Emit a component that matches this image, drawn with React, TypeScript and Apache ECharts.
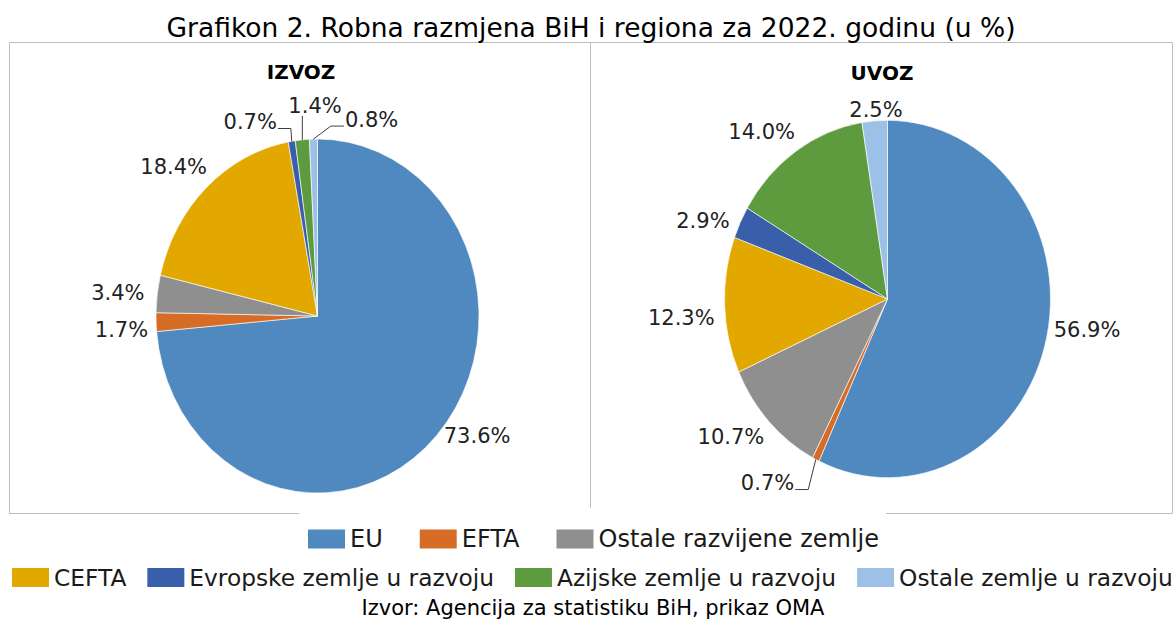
import React, { useEffect, useRef } from "react";
import * as echarts from "echarts";

// ---------- data ----------
const CATEGORIES = [
  "EU",
  "EFTA",
  "Ostale razvijene zemlje",
  "CEFTA",
  "Evropske zemlje u razvoju",
  "Azijske zemlje u razvoju",
  "Ostale zemlje u razvoju",
];
const IZVOZ_VALUES = [73.6, 1.7, 3.4, 18.4, 0.7, 1.4, 0.8];
const UVOZ_VALUES = [56.9, 0.7, 10.7, 12.3, 2.9, 14.0, 2.5];
const PANEL_TITLES = ["IZVOZ", "UVOZ"];
const TITLE = "Grafikon 2. Robna razmjena BiH i regiona za 2022. godinu (u %)";
const SOURCE = "Izvor: Agencija za statistiku BiH, prikaz OMA";
const LEGEND_ROW_1 = CATEGORIES.slice(0, 3);
const LEGEND_ROW_2 = CATEGORIES.slice(3);

// ---------- styles / layout ----------
const COLORS = ["#4F89BF", "#D66C26", "#8F8F8F", "#E2A800", "#3A5FAA", "#5E9B3F", "#9DC1E6"];
const W = 1173;
const H = 621;
const STRETCH = 1.096; // the pies of the reference are vertical ellipses
const FONT = "DejaVu Sans";
const GAP = 8;

type PieCfg = {
  cx: number;
  cy: number;
  r: number;
  values: number[];
  nudges: number[][];
  leaders: boolean[];
};

const PIES: PieCfg[] = [
  {
    cx: 317.5,
    cy: 316,
    r: 161.5,
    values: IZVOZ_VALUES,
    nudges: [[10, -12], [0, 7], [-5, 2], [-4, -7], [-36, -1], [16, -15], [59, -1]],
    leaders: [false, false, false, false, true, true, true],
  },
  {
    cx: 887.5,
    cy: 299,
    r: 163,
    values: UVOZ_VALUES,
    nudges: [[0, -11], [-33, 7], [-8, 3], [-2, 12], [-6, 7], [-11, -4], [4, 8]],
    leaders: [false, true, false, false, false, false, false],
  },
];

function makeLabelLayout(p: PieCfg) {
  const total = p.values.reduce((a, b) => a + b, 0);
  const ry = p.r * STRETCH;
  return (params: any) => {
    const i = params.dataIndex;
    let before = 0;
    for (let j = 0; j < i; j++) before += p.values[j];
    const ang = ((before + p.values[i] / 2) / total) * Math.PI * 2;
    const s = Math.sin(ang);
    const c = -Math.cos(ang);
    const ex = p.cx + p.r * s;
    const ey = p.cy + ry * c;
    const w = params.labelRect.width;
    const h = params.labelRect.height;
    const lx = ex + s * (GAP + w / 2) + p.nudges[i][0];
    const ly = ey + c * (GAP + h / 2) + p.nudges[i][1];
    const out: any = { x: lx, y: ly, align: "center", verticalAlign: "middle" };
    if (p.leaders[i]) {
      const left = lx - w / 2;
      const right = lx + w / 2;
      const yA = ly + h / 2 - 4;
      if (ex >= left && ex <= right) {
        out.labelLinePoints = [[ex, ey], [ex, ly + h / 2 - 1]];
      } else if (right < ex) {
        out.labelLinePoints = [[ex, ey], [right + 14, yA], [right + 1, yA]];
      } else {
        out.labelLinePoints = [[ex, ey], [left - 14, yA], [left - 1, yA]];
      }
    }
    return out;
  };
}

function pieLayerOption(): any {
  return {
    animation: false,
    series: PIES.map((p, si) => ({
      type: "pie",
      name: PANEL_TITLES[si],
      center: [p.cx, p.cy / STRETCH],
      radius: p.r,
      startAngle: 90,
      clockwise: true,
      silent: true,
      label: { show: false },
      labelLine: { show: false },
      itemStyle: { borderColor: "#ffffff", borderWidth: 0.6 },
      data: CATEGORIES.map((name, i) => ({
        name,
        value: p.values[i],
        itemStyle: { color: COLORS[i] },
      })),
    })),
  };
}

function textLayerOption(): any {
  const legendBase = {
    orient: "horizontal",
    padding: 0,
    icon: "rect",
    itemWidth: 37,
    itemHeight: 19,
    selectedMode: false,
    itemStyle: { opacity: 1, borderWidth: 0 },
  };
  const legendData = (names: string[]) =>
    names.map((name) => ({ name, itemStyle: { color: COLORS[CATEGORIES.indexOf(name)], opacity: 1 } }));

  return {
    animation: false,
    backgroundColor: "transparent",
    legend: [
      {
        ...legendBase,
        left: 308,
        top: 527,
        itemGap: 37,
        textStyle: { fontSize: 24, fontFamily: FONT, color: "#1a1a1a" },
        data: legendData(LEGEND_ROW_1),
      },
      {
        ...legendBase,
        left: 12,
        top: 566,
        itemGap: 21,
        textStyle: { fontSize: 23.3, fontFamily: FONT, color: "#1a1a1a" },
        data: legendData(LEGEND_ROW_2),
      },
    ],
    graphic: [
      {
        type: "rect",
        silent: true,
        shape: { x: 9.5, y: 42.5, width: 581, height: 471 },
        style: { fill: "none", stroke: "#BDBDBD", lineWidth: 1 },
      },
      {
        type: "rect",
        silent: true,
        shape: { x: 590.5, y: 42.5, width: 582, height: 471 },
        style: { fill: "none", stroke: "#BDBDBD", lineWidth: 1 },
      },
      {
        type: "rect",
        silent: true,
        shape: { x: 299, y: 508, width: 587, height: 12 },
        style: { fill: "#ffffff" },
      },
      {
        type: "text",
        x: 591,
        y: 27,
        style: { text: TITLE, fontSize: 26.5, fontFamily: FONT, fill: "#000", align: "center", verticalAlign: "middle" },
      },
      {
        type: "text",
        x: 301,
        y: 72,
        style: {
          text: PANEL_TITLES[0],
          fontSize: 20,
          fontWeight: "bold",
          fontFamily: FONT,
          fill: "#000",
          align: "center",
          verticalAlign: "middle",
        },
      },
      {
        type: "text",
        x: 882,
        y: 73,
        style: {
          text: PANEL_TITLES[1],
          fontSize: 20,
          fontWeight: "bold",
          fontFamily: FONT,
          fill: "#000",
          align: "center",
          verticalAlign: "middle",
        },
      },
      {
        type: "text",
        x: 593,
        y: 608,
        style: { text: SOURCE, fontSize: 21, fontFamily: FONT, fill: "#000", align: "center", verticalAlign: "middle" },
      },
    ],
    series: PIES.map((p, si) => ({
      type: "pie",
      name: PANEL_TITLES[si],
      center: [p.cx, p.cy],
      radius: p.r,
      startAngle: 90,
      clockwise: true,
      silent: true,
      avoidLabelOverlap: false,
      itemStyle: { color: "rgba(0,0,0,0)" },
      label: {
        show: true,
        position: "outside",
        fontSize: 21,
        fontFamily: FONT,
        color: "#222222",
        formatter: (prm: any) => Number(prm.value).toFixed(1) + "%",
      },
      labelLine: { show: false, lineStyle: { color: "#404040", width: 1 } },
      labelLayout: makeLabelLayout(p),
      data: CATEGORIES.map((name, i) => ({
        name,
        value: p.values[i],
        labelLine: { show: p.leaders[i] },
      })),
    })),
  };
}

export default function App() {
  const pieRef = useRef<HTMLDivElement>(null);
  const textRef = useRef<HTMLDivElement>(null);

  useEffect(() => {
    if (!pieRef.current || !textRef.current) return;
    const pieChart = echarts.init(pieRef.current, undefined, { renderer: "svg" });
    pieChart.setOption(pieLayerOption());
    const textChart = echarts.init(textRef.current, undefined, { renderer: "svg" });
    textChart.setOption(textLayerOption());
    return () => {
      pieChart.dispose();
      textChart.dispose();
    };
  }, []);

  return (
    <div style={{ position: "absolute", left: 0, top: 0, width: W, height: H, background: "#ffffff", overflow: "hidden" }}>
      <div
        ref={pieRef}
        style={{
          position: "absolute",
          left: 0,
          top: 0,
          width: W,
          height: H / STRETCH,
          transform: `scaleY(${STRETCH})`,
          transformOrigin: "0 0",
        }}
      />
      <div ref={textRef} style={{ position: "absolute", left: 0, top: 0, width: W, height: H }} />
    </div>
  );
}
